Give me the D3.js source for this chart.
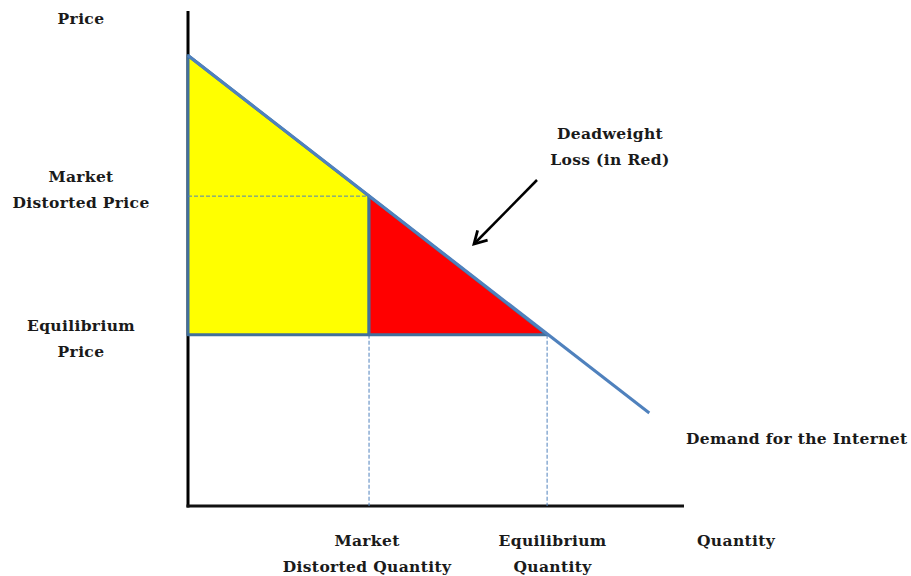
<!DOCTYPE html>
<html>
<head>
<meta charset="utf-8">
<script src="https://cdn.jsdelivr.net/npm/d3@7"></script>
<style>
  body { margin: 0; background: #fff; }
  text { font-family: "DejaVu Serif", serif; font-size: 15.5px; font-weight: bold; letter-spacing: 0.35px; fill: #1a1a1a; }
</style>
</head>
<body>
<div id="chart-area"></div>
<script>
// values (quantity / price in 0..100 units)
var demand = [[0, 91], [93, 18.8]];
var distorted = { q: 36.5, p: 62.6 };
var equilibrium = { q: 72.4, p: 34.6 };
var consumerArea = [[0, 91], [36.5, 62.6], [36.5, 34.6], [0, 34.6]];
var lossArea = [[36.5, 62.6], [72.4, 34.6], [36.5, 34.6]];
var priceLabels = [
  { lines: ["Price"], p: 98.5 },
  { lines: ["Market", "Distorted Price"], p: 66.6 },
  { lines: ["Equilibrium", "Price"], p: 36.6 }
];
var quantityLabels = [
  { lines: ["Market", "Distorted Quantity"], q: 36.1 },
  { lines: ["Equilibrium", "Quantity"], q: 73.5 },
  { lines: ["Quantity"], q: 110.5 }
];

var width = 911, height = 576;

var svg = d3.select("#chart-area")
  .append("svg")
    .attr("width", width)
    .attr("height", height);

var x = d3.scaleLinear()
  .domain([0, 100])
  .range([188, 684]);

var y = d3.scaleLinear()
  .domain([0, 100])
  .range([506, 11]);

var line = d3.line()
  .x(function(d){ return x(d[0]); })
  .y(function(d){ return y(d[1]); });

var blue = "#4f81bd", border = "#41709c";

// axes (plain lines, no ticks)
svg.append("line")
  .attr("x1", x(0)).attr("x2", x(0))
  .attr("y1", y(100)).attr("y2", y(0) + 1.5)
  .attr("stroke", "#000").attr("stroke-width", 3);
svg.append("line")
  .attr("x1", x(0) - 1.5).attr("x2", x(100))
  .attr("y1", y(0)).attr("y2", y(0))
  .attr("stroke", "#111").attr("stroke-width", 3);

// dashed guides
var dash = [
  [[0, distorted.p], [distorted.q, distorted.p]],
  [[distorted.q, equilibrium.p], [distorted.q, 0]],
  [[equilibrium.q, equilibrium.p], [equilibrium.q, 0]]
];
svg.selectAll(".guide").data(dash).enter()
  .append("path")
    .attr("class", "guide")
    .attr("d", line)
    .attr("fill", "none")
    .attr("stroke", blue)
    .attr("stroke-width", 1)
    .attr("stroke-dasharray", "4,2");

// areas
svg.append("path")
  .attr("d", line(consumerArea) + "Z")
  .attr("fill", "#ffff00")
  .attr("stroke", border)
  .attr("stroke-width", 3)
  .attr("stroke-linejoin", "round");
svg.append("path")
  .attr("d", line(lossArea) + "Z")
  .attr("fill", "#ff0000")
  .attr("stroke", border)
  .attr("stroke-width", 3)
  .attr("stroke-linejoin", "round");

// redraw the horizontal dashed part over the yellow fill
svg.append("path")
  .attr("d", line(dash[0]))
  .attr("fill", "none")
  .attr("stroke", blue)
  .attr("stroke-width", 1)
  .attr("stroke-dasharray", "4,2");

// demand curve
svg.append("path")
  .attr("d", line(demand))
  .attr("fill", "none")
  .attr("stroke", blue)
  .attr("stroke-width", 3);

// arrow
svg.append("defs").append("marker")
  .attr("id", "head")
  .attr("viewBox", "0 0 10 10")
  .attr("refX", 8).attr("refY", 5)
  .attr("markerWidth", 7).attr("markerHeight", 7)
  .attr("orient", "auto")
  .append("path")
    .attr("d", "M1,1 L8,5 L1,9")
    .attr("fill", "none")
    .attr("stroke", "#000")
    .attr("stroke-width", 1.6);
svg.append("line")
  .attr("x1", 537).attr("y1", 180)
  .attr("x2", 474).attr("y2", 244)
  .attr("stroke", "#000")
  .attr("stroke-width", 2.5)
  .attr("marker-end", "url(#head)");

// labels
function block(lines, cx, top, anchor) {
  var t = svg.append("text")
    .attr("x", cx).attr("y", top)
    .attr("text-anchor", anchor || "middle");
  lines.forEach(function(s, i) {
    t.append("tspan")
      .attr("x", cx)
      .attr("dy", i === 0 ? 0 : 26)
      .text(s);
  });
}

priceLabels.forEach(function(d){
  block(d.lines, 81, y(d.p) + 6);
});
quantityLabels.forEach(function(d){
  block(d.lines, x(d.q), 546);
});
block(["Deadweight", "Loss (in Red)"], 610, 139);
block(["Demand for the Internet"], 686, 444, "start");
</script>
</body>
</html>
